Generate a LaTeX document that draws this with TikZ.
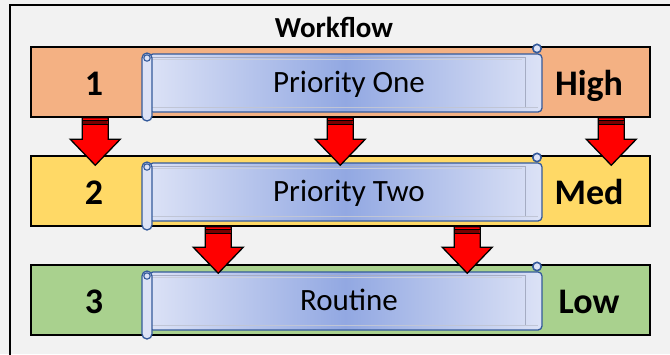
\documentclass[tikz,border=0pt]{standalone}
\usepackage{fontspec}
\setmainfont{Carlito}
\usepackage{tikz}
\usetikzlibrary{calc,positioning}
\definecolor{bggrey}{RGB}{242,242,242}
\definecolor{rowhigh}{RGB}{244,177,131}
\definecolor{rowmed}{RGB}{255,217,102}
\definecolor{rowlow}{RGB}{169,209,142}
\definecolor{scrollblue}{RGB}{52,90,155}
\definecolor{scrolllight}{RGB}{220,226,246}
\definecolor{scrolldark}{RGB}{146,168,226}
\definecolor{scrollinner}{RGB}{165,172,195}
\definecolor{darkred}{RGB}{120,0,0}

% block arrow: #1 = top of the stem, #2 = tip
\newcommand{\redarrow}[2]{%
  \draw[arrowbody] ($(#1)+(-13,0)$) -- ($(#1)+(13,0)$) -- ($(#2)+(13,-26)$) -- ($(#2)+(25,-26)$) -- (#2) -- ($(#2)+(-25,-26)$) -- ($(#2)+(-13,-26)$) -- cycle;
  \fill[darkred] ($(#1)+(-12,3)$) rectangle ($(#1)+(12,6)$);
  \draw[line width=1.4pt] ($(#1)+(-12.5,2.5)$) -- ($(#1)+(12.5,2.5)$);
  \draw[line width=0.9pt] ($(#1)+(-12.5,6.5)$) -- ($(#1)+(12.5,6.5)$);
}

\begin{document}
\begin{tikzpicture}[x=1pt,y=-1pt,
  rowbox/.style={draw=black,line width=1.5pt,minimum width=619pt,minimum height=70pt,inner sep=0pt},
  numtext/.style={font=\fontsize{36}{40}\selectfont\bfseries,anchor=base,inner sep=0pt},
  scrolltext/.style={font=\fontsize{31}{36}\selectfont,anchor=base,inner sep=0pt},
  titletext/.style={font=\fontsize{29}{34}\selectfont\bfseries,anchor=base,inner sep=0pt},
  scrollline/.style={draw=scrollblue,line width=1.3pt},
  arrowbody/.style={fill=red,draw=black,line width=1.3pt,line join=miter}]

% Frame
\fill[bggrey] (0,0) rectangle (670,354);
\useasboundingbox (0,0) rectangle (670,354);
\draw[line width=2pt] (10,360) -- (10,4.5) -- (676,4.5);

\node[titletext] (title) at (334,37) {Workflow};

% Rows
\foreach \i/\t/\c/\lbl/\txt in {1/47/rowhigh/High/Priority One,2/156/rowmed/Med/Priority Two,3/265/rowlow/Low/Routine}{
  \node[rowbox,fill=\c] (r\i) at (340.5,\t+35) {};
  \node[numtext] (n\i) at (94,\t+48.5) {\i};
  \node[numtext] (l\i) at (589,\t+48.5) {\lbl};
  % scroll
  \draw[scrollline,rounded corners=4pt,left color=scrolllight,right color=scrolllight,middle color=scrolldark] (149,\t+7) rectangle (542,\t+65);
  \draw[scrollinner,line width=0.7pt] (152,\t+10) -- (525,\t+10) -- (525,\t+60);
  \draw[scrollinner!60,line width=0.7pt] (152,\t+12) -- (522,\t+12);
  \draw[scrollinner!70,line width=0.7pt] (152,\t+60) -- (538,\t+60);
  \draw[scrollline,fill=scrolllight,rounded corners=5pt] (142,\t+6) rectangle (152,\t+74);
  \draw[scrollline,line width=1.1pt] (147,\t+11) circle (3.2);
  \draw[scrollline,line width=1.6pt,fill=scrolllight] (537,\t+1.5) circle (4.2);
  \node[scrolltext] (p\i) at (349,\t+45.5) {\txt};
}

% Arrows
\foreach \x in {65,310,581}{
  \coordinate (s\x) at ($(r1.south west)+(\x,0)$);
  \coordinate (e\x) at ($(r2.north west)+(\x,10)$);
  \redarrow{s\x}{e\x}
}
\foreach \x in {188,437}{
  \coordinate (s\x) at ($(r2.south west)+(\x,0)$);
  \coordinate (e\x) at ($(r3.north west)+(\x,9)$);
  \redarrow{s\x}{e\x}
}

\end{tikzpicture}
\end{document}
